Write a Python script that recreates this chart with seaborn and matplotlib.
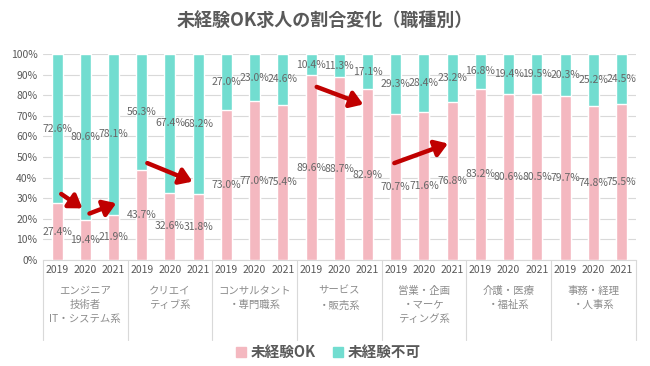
import numpy as np
import pandas as pd
import matplotlib.pyplot as plt
import seaborn as sns
from matplotlib.patches import Patch

# data
groups = ["エンジニア\n技術者\nIT・システム系", "クリエイ\nティブ系", "コンサルタント\n・専門職系",
          "サービス\n・販売系", "営業・企画\n・マーケ\nティング系", "介護・医療\n・福祉系",
          "事務・経理\n・人事系"]
years = ["2019", "2020", "2021"]
ok_pct = [27.4, 19.4, 21.9, 43.7, 32.6, 31.8, 73.0, 77.0, 75.4, 89.6, 88.7, 82.9,
          70.7, 71.6, 76.8, 83.2, 80.6, 80.5, 79.7, 74.8, 75.5]
ng_pct = [72.6, 80.6, 78.1, 56.3, 67.4, 68.2, 27.0, 23.0, 24.6, 10.4, 11.3, 17.1,
          29.3, 28.4, 23.2, 16.8, 19.4, 19.5, 20.3, 25.2, 24.5]
# arrows: (start bar pos, start %, end bar pos, end %)
arrows = [(0.15, 32, 0.9, 25), (1.15, 22.5, 2.1, 27.5), (3.2, 47, 4.8, 38),
          (9.2, 84, 10.85, 75.5), (11.95, 47, 13.85, 56.5)]

pink = "#f4b8c0"
teal = "#72ddd0"
grey = "#595959"

df = pd.DataFrame({
    "slot": [f"{g}|{y}" for g in range(len(groups)) for y in years],
    "year": years * len(groups),
    "ok": ok_pct,
    "ng": ng_pct,
})
df["total"] = df["ok"] + df["ng"]

sns.set_style("white")
plt.rcParams["font.family"] = ["Noto Sans CJK JP", "DejaVu Sans"]

fig = plt.figure(figsize=(6.5, 3.66), dpi=100)
ax = fig.add_axes([0.066, 0.29, 0.912, 0.5625])

sns.barplot(data=df, x="slot", y="total", color=teal, width=0.39, ax=ax,
            saturation=1, zorder=2)
sns.barplot(data=df, x="slot", y="ok", color=pink, width=0.39, ax=ax,
            saturation=1, zorder=3)

# value labels centred in each segment
for i, row in df.iterrows():
    ax.text(i, row["ok"] / 2, f"{row['ok']:.1f}%", ha="center", va="center",
            fontsize=7.5, color="#666666", zorder=5)
    ax.text(i, row["ok"] + row["ng"] / 2, f"{row['ng']:.1f}%", ha="center",
            va="center", fontsize=7.5, color="#666666", zorder=5)

for x0, y0, x1, y1 in arrows:
    ax.annotate("", xy=(x1, y1), xytext=(x0, y0),
                arrowprops=dict(arrowstyle="-|>,head_length=0.75,head_width=0.5",
                                color="#c00000", lw=3.2, shrinkA=0, shrinkB=0),
                zorder=6)

ax.set_xlim(-0.5, len(df) - 0.5)
ax.set_ylim(0, 100)
ax.set_yticks(np.arange(0, 101, 10))
ax.set_yticklabels([f"{v}%" for v in range(0, 101, 10)], fontsize=7.5, color=grey)
ax.yaxis.grid(True, color="#d9d9d9", lw=0.8, zorder=0)
ax.set_axisbelow(True)
ax.set_xticks(range(len(df)))
ax.set_xticklabels(df["year"], fontsize=7.5, color=grey)
ax.tick_params(axis="both", length=0, pad=4)
ax.set_xlabel("")
ax.set_ylabel("")
for s in ["top", "right", "left"]:
    ax.spines[s].set_visible(False)
ax.spines["bottom"].set_color("#d9d9d9")

# group separators and group names below the axis
trans = ax.get_xaxis_transform()
for k in range(len(groups) + 1):
    ax.plot([k * 3 - 0.5] * 2, [0, -0.39], color="#d9d9d9", lw=0.8,
            transform=trans, clip_on=False)
for k, g in enumerate(groups):
    ax.text(k * 3 + 1, -0.125, g, transform=trans, ha="center", va="top",
            fontsize=7.5, color="#8c8c8c", linespacing=1.55)

fig.text(0.5, 0.945, "未経験OK求人の割合変化（職種別）", ha="center", va="center",
         fontsize=13, fontweight="bold", color=grey)
handles = [Patch(color=pink, label="未経験OK"), Patch(color=teal, label="未経験不可")]
leg = fig.legend(handles=handles, loc="center", bbox_to_anchor=(0.505, 0.038), ncol=2,
                 frameon=False, fontsize=10.5, handlelength=0.7, handleheight=0.7,
                 handletextpad=0.3, columnspacing=1.2)
for t in leg.get_texts():
    t.set_color(grey)
    t.set_fontweight("bold")

fig.savefig("out.png", dpi=100)
